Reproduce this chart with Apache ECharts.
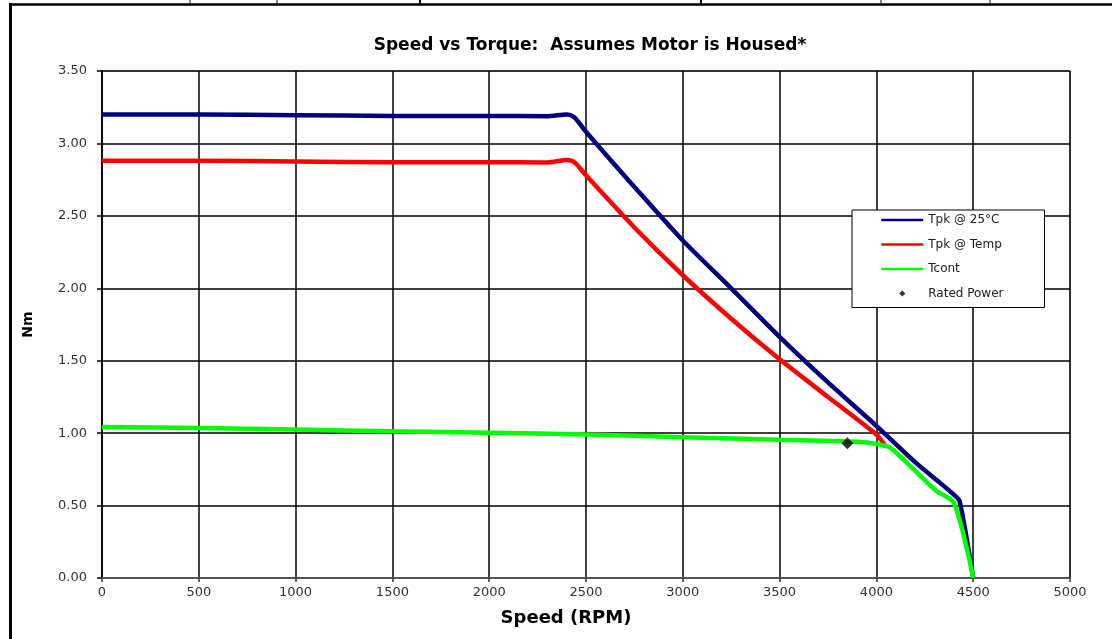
<!DOCTYPE html>
<html>
<head>
<meta charset="utf-8">
<style>
html,body{margin:0;padding:0;background:#fff;}
#chart{width:1112px;height:639px;}
</style>
<script src="https://cdn.jsdelivr.net/npm/echarts@6/dist/echarts.min.js"></script>
</head>
<body>
<div id="chart"></div>
<script>
// Data
const titleText = 'Speed vs Torque:  Assumes Motor is Housed*';
const xTicks = [0, 500, 1000, 1500, 2000, 2500, 3000, 3500, 4000, 4500, 5000];
const yTicks = [0, 0.5, 1, 1.5, 2, 2.5, 3, 3.5];

const tpk25Rpm = [0, 500, 1000, 1500, 2000, 2300, 2400, 2440, 2500, 2750, 3000, 3250, 3500, 3750, 4000, 4200, 4330, 4400, 4430, 4500];
const tpk25Nm  = [3.20, 3.20, 3.195, 3.19, 3.19, 3.188, 3.20, 3.18, 3.08, 2.70, 2.33, 2.00, 1.665, 1.35, 1.05, 0.80, 0.655, 0.575, 0.53, 0.0];

const tpkTempRpm = [0, 500, 1000, 1500, 2000, 2300, 2400, 2440, 2500, 2750, 3000, 3250, 3500, 3750, 4000, 4050];
const tpkTempNm  = [2.88, 2.88, 2.875, 2.87, 2.87, 2.869, 2.885, 2.87, 2.78, 2.42, 2.09, 1.79, 1.51, 1.25, 0.99, 0.905];

const tcontRpm = [0, 500, 1000, 1500, 2000, 2500, 3000, 3500, 3900, 4000, 4070, 4200, 4310, 4400, 4500];
const tcontNm  = [1.043, 1.035, 1.025, 1.013, 1.003, 0.99, 0.972, 0.954, 0.94, 0.925, 0.90, 0.74, 0.60, 0.52, 0.0];

const ratedRpm = [3850];
const ratedNm  = [0.93];

const seriesNames = ['Tpk @ 25°C', 'Tpk @ Temp', 'Tcont', 'Rated Power'];
const seriesColors = ['#000080', '#ff0000', '#00ff00', '#000000'];

function pairs(xs, ys) { return xs.map((x, i) => [x, ys[i]]); }

const chart = echarts.init(document.getElementById('chart'), null, {renderer: 'canvas'});
const font = 'DejaVu Sans, Verdana, sans-serif';

function lineLegend(i) {
  return {name: seriesNames[i], lineStyle: {width: 2.5, color: seriesColors[i]},
          itemStyle: {color: 'rgba(0,0,0,0)', borderWidth: 0}};
}

chart.setOption({
  animation: false,
  backgroundColor: '#fff',
  title: {
    text: titleText,
    left: 585, top: 32, textAlign: 'center',
    textStyle: {fontFamily: font, fontSize: 17, fontWeight: 'bold', color: '#000'}
  },
  grid: {left: 102, right: 42, top: 71, bottom: 61, show: true, borderColor: '#808080', borderWidth: 1},
  legend: {
    orient: 'vertical',
    left: 852, top: 210,
    padding: [4, 41, 8, 28],
    itemGap: 12.5,
    itemWidth: 42, itemHeight: 6,
    backgroundColor: '#fff',
    borderColor: '#000', borderWidth: 1,
    textStyle: {fontFamily: font, fontSize: 12, color: '#222', width: 100},
    data: [
      lineLegend(0), lineLegend(1), lineLegend(2),
      {name: seriesNames[3], icon: 'path://M21,0 L24,3 L21,6 L18,3 Z M0,0 L0,0 M42,6 L42,6', itemStyle: {color: '#000'}}
    ]
  },
  xAxis: {
    type: 'value', min: 0, max: 5000, interval: 500,
    name: 'Speed (RPM)', nameLocation: 'middle', nameGap: 31,
    nameTextStyle: {fontFamily: font, fontSize: 18, fontWeight: 'bold', color: '#000', padding: [0, 40, 0, 0]},
    axisLine: {show: true, lineStyle: {color: '#555', width: 2}},
    axisTick: {show: true, length: 4, lineStyle: {color: '#333', width: 1.5}},
    axisLabel: {fontFamily: font, fontSize: 13, color: '#333', margin: 8, formatter: v => String(v)},
    splitLine: {show: true, lineStyle: {color: '#000', width: 1.5}}
  },
  yAxis: {
    type: 'value', min: 0, max: 3.5, interval: 0.5,
    name: 'Nm', nameLocation: 'middle', nameGap: 67, nameRotate: 90,
    nameTextStyle: {fontFamily: font, fontSize: 14, fontWeight: 'bold', color: '#000'},
    axisLine: {show: true, lineStyle: {color: '#000', width: 1.5}},
    axisTick: {show: true, length: 5, lineStyle: {color: '#000', width: 1.5}},
    axisLabel: {fontFamily: font, fontSize: 13, color: '#333', margin: 15,
      formatter: v => v.toFixed(2)},
    splitLine: {show: true, lineStyle: {color: '#000', width: 1.5}}
  },
  series: [
    {name: seriesNames[0], type: 'line', data: pairs(tpk25Rpm, tpk25Nm), showSymbol: false, symbol: 'none',
     smooth: 0.25, lineStyle: {color: seriesColors[0], width: 4.5}, itemStyle: {color: seriesColors[0]}, z: 2},
    {name: seriesNames[1], type: 'line', data: pairs(tpkTempRpm, tpkTempNm), showSymbol: false, symbol: 'none',
     smooth: 0.25, lineStyle: {color: seriesColors[1], width: 4.5}, itemStyle: {color: seriesColors[1]}, z: 3},
    {name: seriesNames[2], type: 'line', data: pairs(tcontRpm, tcontNm), showSymbol: false, symbol: 'none',
     smooth: 0.25, lineStyle: {color: seriesColors[2], width: 4.5}, itemStyle: {color: seriesColors[2]}, z: 4},
    {name: seriesNames[3], type: 'scatter', data: pairs(ratedRpm, ratedNm), symbol: 'diamond', symbolSize: 12,
     itemStyle: {color: seriesColors[3]}, z: 5}
  ],
  graphic: [
    {type: 'line', shape: {x1: 9, y1: 4.5, x2: 1112, y2: 4.5}, style: {stroke: '#000', lineWidth: 2.5}, silent: true},
    {type: 'line', shape: {x1: 10.5, y1: 3, x2: 10.5, y2: 639}, style: {stroke: '#000', lineWidth: 3}, silent: true},
    {type: 'line', shape: {x1: 190, y1: 0, x2: 190, y2: 4}, style: {stroke: '#333', lineWidth: 1.2}, silent: true},
    {type: 'line', shape: {x1: 277, y1: 0, x2: 277, y2: 4}, style: {stroke: '#333', lineWidth: 1.2}, silent: true},
    {type: 'line', shape: {x1: 420, y1: 0, x2: 420, y2: 4}, style: {stroke: '#000', lineWidth: 2}, silent: true},
    {type: 'line', shape: {x1: 701, y1: 0, x2: 701, y2: 4}, style: {stroke: '#000', lineWidth: 2}, silent: true},
    {type: 'line', shape: {x1: 881, y1: 0, x2: 881, y2: 4}, style: {stroke: '#333', lineWidth: 1.2}, silent: true},
    {type: 'line', shape: {x1: 990, y1: 0, x2: 990, y2: 4}, style: {stroke: '#333', lineWidth: 1.2}, silent: true}
  ]
});
</script>
</body>
</html>
